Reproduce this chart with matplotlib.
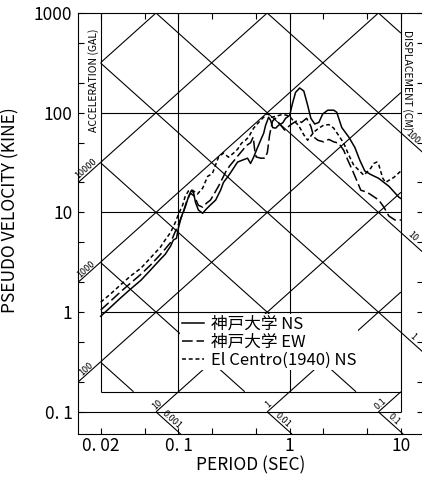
import numpy as np
import matplotlib
matplotlib.use("Agg")
import matplotlib.pyplot as plt

plt.rcParams["font.family"] = ["Noto Sans CJK JP", "DejaVu Sans"]

# -------------------------- data --------------------------
period_ns = [0.020, 0.0245, 0.030, 0.037, 0.046, 0.056, 0.069, 0.076, 0.085, 0.090,
             0.096, 0.100, 0.106, 0.115, 0.123, 0.131, 0.137, 0.142, 0.151, 0.165,
             0.175, 0.194, 0.216, 0.239, 0.254, 0.276, 0.294, 0.313, 0.340, 0.377,
             0.418, 0.445, 0.474, 0.515, 0.548, 0.583, 0.608, 0.647, 0.674, 0.703,
             0.748, 0.796, 0.865, 0.920, 1.00, 1.06, 1.13, 1.23, 1.34, 1.45,
             1.55, 1.68, 1.83, 1.98, 2.20, 2.49, 2.65, 2.94, 3.40, 3.85,
             4.27, 4.74, 5.36, 6.30, 7.80, 9.60, 10.0]
sv_ns = [0.91, 1.12, 1.38, 1.70, 2.09, 2.64, 3.4, 3.8, 4.6, 5.3,
         5.5, 7.0, 9.0, 11.3, 14.3, 16.7, 15.6, 12.7, 10.6, 9.8,
         10.6, 11.9, 13.3, 16.7, 20.0, 22.6, 25.0, 27.8, 32.0, 33.5,
         35.0, 31.0, 35.8, 45.0, 53.0, 62.0, 75.0, 90.0, 84.0, 71.0,
         70.0, 75.0, 79.0, 88.0, 94.0, 124.0, 160.0, 177.0, 165.0, 119.0,
         88.0, 77.0, 80.0, 97.0, 106.0, 106.0, 101.0, 71.0, 57.0, 45.0,
         33.4, 26.0, 24.0, 22.0, 18.3, 14.2, 13.8]

period_ew = [0.020, 0.0245, 0.030, 0.037, 0.046, 0.056, 0.069, 0.076, 0.085, 0.094,
             0.100, 0.109, 0.118, 0.128, 0.139, 0.151, 0.165, 0.179, 0.194, 0.211,
             0.229, 0.249, 0.271, 0.294, 0.319, 0.347, 0.377, 0.410, 0.445, 0.470,
             0.485, 0.500, 0.550, 0.600, 0.630, 0.660, 0.700, 0.740, 0.830, 0.900,
             0.980, 1.06, 1.18, 1.28, 1.42, 1.55, 1.65, 1.79, 2.02, 2.25,
             2.49, 2.76, 3.06, 3.33, 3.69, 4.10, 4.36, 4.94, 5.60, 6.33,
             7.03, 7.80, 8.85, 9.60, 10.0]
sv_ew = [1.05, 1.29, 1.59, 1.95, 2.4, 2.96, 3.8, 4.3, 5.0, 6.5,
         7.6, 9.6, 12.7, 15.6, 14.6, 11.8, 11.3, 12.4, 13.3, 15.6,
         18.3, 22.0, 26.6, 30.0, 33.5, 37.6, 42.0, 47.0, 50.0, 57.0,
         42.0, 36.0, 35.0, 35.0, 40.0, 60.0, 82.0, 88.0, 75.0, 67.0,
         73.0, 78.0, 84.0, 80.0, 88.0, 73.0, 57.0, 53.0, 51.0, 54.0,
         51.0, 49.5, 42.0, 33.5, 26.0, 19.7, 16.7, 16.0, 14.6, 13.3,
         11.3, 9.2, 8.4, 8.4, 8.4]

period_ec = [0.020, 0.0245, 0.030, 0.037, 0.046, 0.056, 0.069, 0.076, 0.085, 0.094,
             0.100, 0.109, 0.115, 0.123, 0.134, 0.148, 0.165, 0.183, 0.202, 0.229,
             0.254, 0.282, 0.313, 0.340, 0.369, 0.401, 0.427, 0.474, 0.526, 0.583,
             0.634, 0.688, 0.748, 0.830, 0.920, 1.00, 1.06, 1.20, 1.34, 1.45,
             1.65, 1.83, 2.02, 2.25, 2.49, 2.76, 3.06, 3.40, 3.77, 4.18,
             4.64, 5.36, 5.70, 6.07, 6.33, 6.87, 7.30, 7.80, 8.66, 9.60, 10.0]
sv_ec = [1.26, 1.52, 1.87, 2.3, 2.76, 3.5, 4.5, 5.3, 6.3, 8.0,
         9.6, 11.8, 14.5, 16.4, 16.7, 15.3, 17.5, 23.0, 24.6, 35.8,
         39.4, 35.8, 39.4, 43.0, 49.5, 53.0, 57.0, 70.0, 80.0, 90.0,
         98.0, 90.0, 92.0, 95.0, 95.0, 92.0, 85.0, 75.0, 60.0, 53.0,
         64.0, 70.0, 75.0, 76.0, 70.0, 59.0, 49.5, 37.6, 29.7, 26.6,
         23.6, 27.8, 31.0, 32.0, 30.0, 22.0, 20.0, 21.0, 22.5, 25.0, 26.0]

series_labels = ["神戸大学 NS", "神戸大学 EW", "El Centro(1940) NS"]

# tripartite grid values
accel_values = [0.1, 1, 10, 100, 1000, 10000, 100000]      # gal
disp_values = [0.001, 0.01, 0.1, 1, 10, 100, 1000]         # cm
accel_left_labels = [100, 1000, 10000]
accel_bottom_labels = [10, 1, 0.1]
disp_bottom_labels = [0.001, 0.01, 0.1]
disp_right_labels = [1, 10, 100]

x_major = [0.02, 0.1, 1, 10]
x_major_labels = ["0. 02", "0. 1", "1", "10"]
x_minor = [0.05, 0.2, 0.5, 2, 5]
y_major = [0.1, 1, 10, 100, 1000]
y_major_labels = ["0. 1", "1", "10", "100", "1000"]
y_minor = [0.2, 0.5, 2, 5, 20, 50, 200, 500]

# -------------------------- frame --------------------------
T_LO, T_HI = 0.02, 10.0
SV_TOP, SV_LOW = 1000.0, 0.1
SV_INNER = 1.0 / (2 * np.pi)
XLIM = (0.0125, 15.8)
YLIM = (0.06, 1000.0)
TWO_PI = 2 * np.pi

fig = plt.figure(figsize=(4.22, 4.82), dpi=100)
ax = fig.add_axes([78 / 422, 48 / 482, 345 / 422, 421 / 482])
ax.set_xscale("log")
ax.set_yscale("log")
ax.set_xlim(*XLIM)
ax.set_ylim(*YLIM)

LW = 0.8
kw = dict(color="black", lw=LW, zorder=2, solid_capstyle="butt")

# horizontal / vertical frame lines
for s in [1, 10, 100]:
    ax.plot([T_LO, T_HI], [s, s], **kw)
ax.plot([T_LO, T_HI], [SV_INNER, SV_INNER], **kw)
ax.plot([XLIM[0], T_HI], [SV_LOW, SV_LOW], **kw)
for t in [T_LO, 0.1, 1]:
    ax.plot([t, t], [SV_INNER, SV_TOP], **kw)
ax.plot([T_HI, T_HI], [SV_LOW, SV_TOP], **kw)


def accel_seg(a, t0, t1, s0, s1):
    ta = max(t0, TWO_PI * s0 / a)
    tb = min(t1, TWO_PI * s1 / a)
    if ta >= tb:
        return None
    t = np.array([ta, tb])
    return t, a * t / TWO_PI


def disp_seg(d, t0, t1, s0, s1):
    ta = max(t0, TWO_PI * d / s1)
    tb = min(t1, TWO_PI * d / s0)
    if ta >= tb:
        return None
    t = np.array([ta, tb])
    return t, TWO_PI * d / t


for a in accel_values:
    seg = accel_seg(a, T_LO, T_HI, SV_LOW, SV_TOP)
    if seg:
        ax.plot(*seg, **kw)
for d in disp_values:
    seg = disp_seg(d, T_LO, T_HI, SV_INNER, SV_TOP)
    if seg:
        ax.plot(*seg, **kw)

# labelled extensions
for a in accel_left_labels:
    ax.plot(*accel_seg(a, XLIM[0], T_LO, YLIM[0], SV_TOP), **kw)
for d in disp_right_labels:
    ax.plot(*disp_seg(d, T_HI, XLIM[1], YLIM[0], SV_TOP), **kw)
for d in disp_bottom_labels:
    ax.plot(*disp_seg(d, T_LO, XLIM[1], YLIM[0], SV_LOW), **kw)

# screen angle of the diagonals
p0 = ax.transData.transform((1, 1))
p1 = ax.transData.transform((10, 10))
ang = np.degrees(np.arctan2(p1[1] - p0[1], p1[0] - p0[0]))


def fmt(v):
    return ("%g" % v)


lab_kw = dict(fontsize=6.5, ha="center", va="bottom", rotation_mode="anchor", zorder=3)
for a in accel_left_labels:
    t = np.sqrt(XLIM[0] * T_LO)
    ax.text(t, a * t / TWO_PI, fmt(a), rotation=ang, **lab_kw)
for a in accel_bottom_labels:
    s = 0.11
    ax.text(TWO_PI * s / a, s, fmt(a), rotation=ang, **lab_kw)
for d in disp_bottom_labels:
    s = 0.077
    ax.text(TWO_PI * d / s, s, fmt(d), rotation=-ang, **lab_kw)
for d in disp_right_labels:
    t = 11.9
    ax.text(t, TWO_PI * d / t, fmt(d), rotation=-ang, **lab_kw)

ax.text(0.0172, 210, "ACCELERATION (GAL)", rotation=90, fontsize=7.5,
        ha="center", va="center")
ax.text(11.4, 210, "DISPLACEMENT (CM)", rotation=-90, fontsize=7.5,
        ha="center", va="center")

# -------------------------- spectra --------------------------
ax.plot(period_ns, sv_ns, color="black", lw=1.1, ls="-", label=series_labels[0], zorder=4)
ax.plot(period_ew, sv_ew, color="black", lw=1.1, ls=(0, (7, 2.5)), label=series_labels[1], zorder=4)
ax.plot(period_ec, sv_ec, color="black", lw=1.1, ls=(0, (2.6, 1.8)), label=series_labels[2], zorder=4)

leg = ax.legend(loc="upper left", bbox_to_anchor=(0.296, 0.285), fontsize=12,
                frameon=True, facecolor="white", edgecolor="none", framealpha=1,
                fancybox=False, borderpad=0.1, borderaxespad=0, handlelength=1.35,
                handletextpad=0.4, labelspacing=0.05)
leg.set_zorder(5)

# -------------------------- axes --------------------------
ax.set_xticks(x_major)
ax.set_xticklabels(x_major_labels)
ax.set_xticks(x_minor, minor=True)
ax.set_yticks(y_major)
ax.set_yticklabels(y_major_labels)
ax.set_yticks(y_minor, minor=True)
ax.tick_params(which="both", direction="in", length=4, width=0.8,
               top=True, right=True, labelsize=12.5)
ax.tick_params(axis="x", which="both", pad=2)
ax.tick_params(axis="y", which="both", pad=4)
ax.xaxis.set_minor_formatter(plt.NullFormatter())
ax.yaxis.set_minor_formatter(plt.NullFormatter())
for sp in ax.spines.values():
    sp.set_linewidth(0.8)

ax.set_xlabel("PERIOD (SEC)", fontsize=12.5, labelpad=1)
ax.set_ylabel("PSEUDO VELOCITY (KINE)", fontsize=12.5)
ax.yaxis.set_label_coords(-0.171, 0.532)

fig.savefig("out.png", dpi=100)
